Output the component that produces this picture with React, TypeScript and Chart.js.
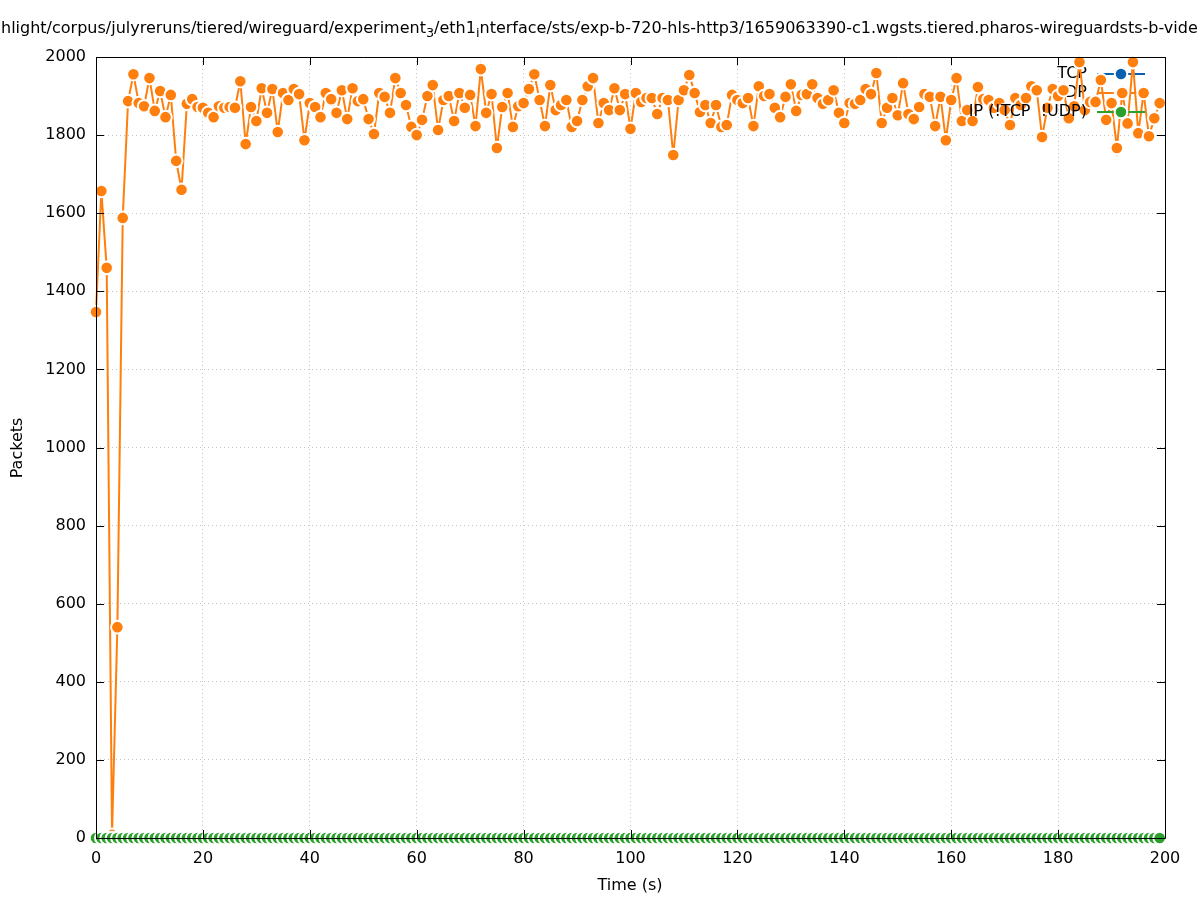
import React, { useEffect, useRef } from 'react';
import { Chart, registerables } from 'chart.js';
Chart.register(...registerables);

const FONT = '"DejaVu Sans", sans-serif';

const TITLE_SEGMENTS: { t: string; sub?: boolean }[] = [
  { t: 'hlight/corpus/julyreruns/tiered/wireguard/experiment' },
  { t: '3', sub: true },
  { t: '/eth1' },
  { t: 'i', sub: true },
  { t: 'nterface/sts/exp-b-720-hls-http3/1659063390-c1.wgsts.tiered.pharos-wireguardsts-b-video' },
];
const X_TITLE = 'Time (s)';
const Y_TITLE = 'Packets';
const SERIES_LABELS = ['TCP', 'UDP', 'IP (!TCP  !UDP)'];
const SERIES_COLORS = ['#0b61b0', '#ff7f0e', '#2ca02c'];

const UDP = [
  1347, 1657, 1460, 8, 540, 1588, 1887, 1956, 1882, 1874,
  1946, 1862, 1913, 1846, 1903, 1734, 1660, 1880, 1892, 1872,
  1870, 1857, 1846, 1874, 1870, 1872, 1870, 1938, 1777, 1872,
  1836, 1920, 1857, 1918, 1808, 1908, 1890, 1918, 1905, 1787,
  1882, 1872, 1846, 1908, 1892, 1857, 1915, 1841, 1920, 1887,
  1892, 1841, 1803, 1908, 1898, 1857, 1946, 1908, 1877, 1821,
  1800, 1839, 1900, 1928, 1813, 1890, 1900, 1836, 1908, 1870,
  1903, 1823, 1969, 1857, 1905, 1767, 1872, 1908, 1821, 1874,
  1882, 1918, 1956, 1890, 1823, 1928, 1864, 1877, 1890, 1821,
  1836, 1890, 1925, 1946, 1831, 1882, 1864, 1920, 1864, 1905,
  1816, 1908, 1885, 1895, 1895, 1854, 1895, 1890, 1749, 1890,
  1915, 1954, 1908, 1859, 1877, 1831, 1877, 1821, 1826, 1903,
  1890, 1882, 1895, 1823, 1925, 1900, 1905, 1870, 1846, 1898,
  1930, 1862, 1903, 1905, 1930, 1895, 1880, 1890, 1915, 1857,
  1831, 1882, 1880, 1890, 1918, 1905, 1959, 1831, 1870, 1895,
  1851, 1933, 1854, 1841, 1872, 1905, 1898, 1823, 1898, 1787,
  1890, 1946, 1836, 1864, 1836, 1923, 1892, 1890, 1870, 1882,
  1864, 1826, 1895, 1877, 1895, 1925, 1915, 1795, 1870, 1918,
  1900, 1915, 1843, 1874, 1987, 1864, 1885, 1885, 1941, 1839,
  1882, 1767, 1908, 1830, 1987, 1805, 1908, 1797, 1843, 1882,
];
const TCP = [
  0, 0, 0, 0, 0, 0, 0, 0, 0, 0, 0, 0, 0, 0, 0, 0, 0, 0, 0, 0,
  0, 0, 0, 0, 0, 0, 0, 0, 0, 0, 0, 0, 0, 0, 0, 0, 0, 0, 0, 0,
  0, 0, 0, 0, 0, 0, 0, 0, 0, 0, 0, 0, 0, 0, 0, 0, 0, 0, 0, 0,
  0, 0, 0, 0, 0, 0, 0, 0, 0, 0, 0, 0, 0, 0, 0, 0, 0, 0, 0, 0,
  0, 0, 0, 0, 0, 0, 0, 0, 0, 0, 0, 0, 0, 0, 0, 0, 0, 0, 0, 0,
  0, 0, 0, 0, 0, 0, 0, 0, 0, 0, 0, 0, 0, 0, 0, 0, 0, 0, 0, 0,
  0, 0, 0, 0, 0, 0, 0, 0, 0, 0, 0, 0, 0, 0, 0, 0, 0, 0, 0, 0,
  0, 0, 0, 0, 0, 0, 0, 0, 0, 0, 0, 0, 0, 0, 0, 0, 0, 0, 0, 0,
  0, 0, 0, 0, 0, 0, 0, 0, 0, 0, 0, 0, 0, 0, 0, 0, 0, 0, 0, 0,
  0, 0, 0, 0, 0, 0, 0, 0, 0, 0, 0, 0, 0, 0, 0, 0, 0, 0, 0, 0,
];
const IP = [
  0, 0, 0, 0, 0, 0, 0, 0, 0, 0, 0, 0, 0, 0, 0, 0, 0, 0, 0, 0,
  0, 0, 0, 0, 0, 0, 0, 0, 0, 0, 0, 0, 0, 0, 0, 0, 0, 0, 0, 0,
  0, 0, 0, 0, 0, 0, 0, 0, 0, 0, 0, 0, 0, 0, 0, 0, 0, 0, 0, 0,
  0, 0, 0, 0, 0, 0, 0, 0, 0, 0, 0, 0, 0, 0, 0, 0, 0, 0, 0, 0,
  0, 0, 0, 0, 0, 0, 0, 0, 0, 0, 0, 0, 0, 0, 0, 0, 0, 0, 0, 0,
  0, 0, 0, 0, 0, 0, 0, 0, 0, 0, 0, 0, 0, 0, 0, 0, 0, 0, 0, 0,
  0, 0, 0, 0, 0, 0, 0, 0, 0, 0, 0, 0, 0, 0, 0, 0, 0, 0, 0, 0,
  0, 0, 0, 0, 0, 0, 0, 0, 0, 0, 0, 0, 0, 0, 0, 0, 0, 0, 0, 0,
  0, 0, 0, 0, 0, 0, 0, 0, 0, 0, 0, 0, 0, 0, 0, 0, 0, 0, 0, 0,
  0, 0, 0, 0, 0, 0, 0, 0, 0, 0, 0, 0, 0, 0, 0, 0, 0, 0, 0, 0,
];
const X_MIN = 0, X_MAX = 200, X_STEP = 20;
const Y_MIN = 0, Y_MAX = 2000, Y_STEP = 200;

const toPoints = (vals: number[]) => vals.map((y, i) => ({ x: i, y }));

const PT_R = 6.3;
const PT_BW = 2;

const decor = {
  id: 'decor',
  beforeDatasetDraw(chart: any, args: any) {
    const ctx = chart.ctx;
    const ds = chart.data.datasets[args.index];
    const rowY = 74 + 19 * args.index;
    ctx.save();
    ctx.font = `16px ${FONT}`;
    ctx.fillStyle = '#000';
    ctx.textAlign = 'right';
    ctx.textBaseline = 'middle';
    ctx.fillText(ds.label, 1087, rowY);
    ctx.strokeStyle = ds.borderColor;
    ctx.lineWidth = 2;
    ctx.beginPath();
    ctx.moveTo(1097, rowY);
    ctx.lineTo(1145, rowY);
    ctx.stroke();
    ctx.beginPath();
    ctx.arc(1121, rowY, PT_R, 0, Math.PI * 2);
    ctx.fillStyle = ds.borderColor;
    ctx.fill();
    ctx.strokeStyle = '#fff';
    ctx.lineWidth = PT_BW;
    ctx.stroke();
    ctx.restore();
  },
  afterDatasetsDraw(chart: any) {
    const ctx = chart.ctx;
    const { left, right, top, bottom } = chart.chartArea;
    const xs = chart.scales.x;
    const ys = chart.scales.y;
    ctx.save();
    ctx.strokeStyle = '#000';
    ctx.lineWidth = 1;
    ctx.beginPath();
    ctx.rect(left + 0.5, top + 0.5, right - left, bottom - top);
    ctx.stroke();
    const TL = 8;
    ctx.beginPath();
    xs.ticks.forEach((t: any) => {
      const px = Math.round(xs.getPixelForValue(t.value)) + 0.5;
      ctx.moveTo(px, bottom); ctx.lineTo(px, bottom - TL);
      ctx.moveTo(px, top); ctx.lineTo(px, top + TL);
    });
    ys.ticks.forEach((t: any) => {
      const py = Math.round(ys.getPixelForValue(t.value)) + 0.5;
      ctx.moveTo(left, py); ctx.lineTo(left + TL, py);
      ctx.moveTo(right, py); ctx.lineTo(right - TL, py);
    });
    ctx.stroke();
    ctx.restore();
  },
  afterDraw(chart: any) {
    const ctx = chart.ctx;
    ctx.save();
    ctx.fillStyle = '#000';
    ctx.textBaseline = 'middle';
    ctx.textAlign = 'left';
    let x = 1;
    const y = 29;
    TITLE_SEGMENTS.forEach((s) => {
      ctx.font = s.sub ? `12.8px ${FONT}` : `16px ${FONT}`;
      ctx.fillText(s.t, x, s.sub ? y + 5 : y);
      x += ctx.measureText(s.t).width;
    });
    ctx.font = `16px ${FONT}`;
    ctx.textAlign = 'center';
    ctx.fillText(X_TITLE, 630, 886);
    ctx.translate(18, 448);
    ctx.rotate(-Math.PI / 2);
    ctx.fillText(Y_TITLE, 0, 0);
    ctx.restore();
  },
};

export default function App() {
  const ref = useRef<HTMLCanvasElement | null>(null);
  useEffect(() => {
    document.body.style.margin = '0';
    const seriesVals = [TCP, UDP, IP];
    const chart = new Chart(ref.current as HTMLCanvasElement, {
      type: 'line',
      data: {
        datasets: seriesVals.map((vals, i) => ({
          label: SERIES_LABELS[i],
          data: toPoints(vals),
          borderColor: SERIES_COLORS[i],
          backgroundColor: SERIES_COLORS[i],
          pointBackgroundColor: SERIES_COLORS[i],
          pointBorderColor: '#ffffff',
          pointBorderWidth: PT_BW,
          pointRadius: PT_R,
          borderWidth: 2,
          tension: 0,
          clip: false as any,
          order: 3 - i,
        })),
      },
      options: {
        animation: false,
        responsive: false,
        events: [],
        layout: { padding: { left: 0, top: 57, right: 32, bottom: 0 } },
        plugins: { legend: { display: false }, tooltip: { enabled: false }, title: { display: false } },
        scales: {
          x: {
            type: 'linear',
            min: X_MIN,
            max: X_MAX,
            ticks: { stepSize: X_STEP, color: '#000', font: { family: FONT, size: 16 }, padding: 11, maxRotation: 0, callback: (v: any) => String(v) },
            grid: { color: '#c4c4c4', drawTicks: false, lineWidth: 1 },
            border: { display: false, dash: [1, 3] },
            afterFit: (s: any) => { s.height = 62; },
          },
          y: {
            type: 'linear',
            min: Y_MIN,
            max: Y_MAX,
            ticks: { stepSize: Y_STEP, color: '#000', font: { family: FONT, size: 16 }, padding: 10, callback: (v: any) => String(v) },
            grid: { color: '#c4c4c4', drawTicks: false, lineWidth: 1 },
            border: { display: false, dash: [1, 3] },
            afterFit: (s: any) => { s.width = 96; },
          },
        },
      },
      plugins: [decor],
    });
    return () => chart.destroy();
  }, []);
  return (
    <div style={{ position: 'fixed', left: 0, top: 0, width: 1197, height: 900, background: '#fff' }}>
      <canvas ref={ref} width={1197} height={900} style={{ display: 'block' }} />
    </div>
  );
}
